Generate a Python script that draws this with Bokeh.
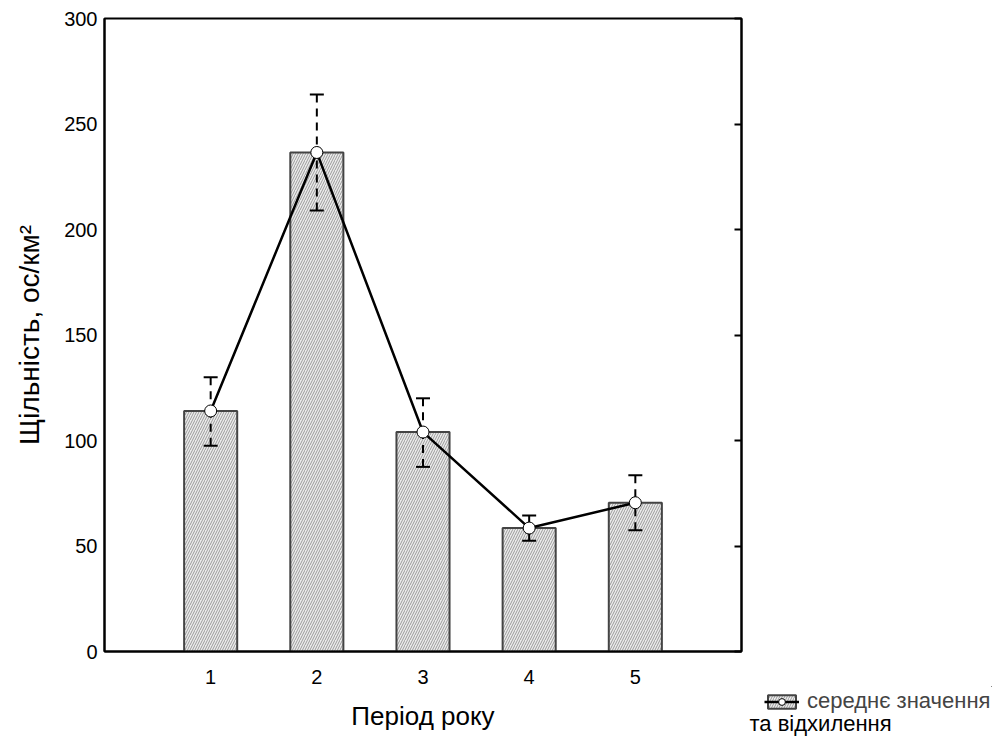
from bokeh.plotting import figure
from bokeh.models import Range1d, LinearAxis, FixedTicker, Legend, LegendItem, Label, Spacer
from bokeh.layouts import row, column
from bokeh.embed import file_html
from bokeh.resources import INLINE

# ---- data ----
periods = [1, 2, 3, 4, 5]
means = [114, 236.5, 104, 58.5, 70.5]
upper = [130, 264, 120, 64.5, 83.5]
lower = [97.5, 209, 87.5, 52.5, 57.5]
y_ticks = [0, 50, 100, 150, 200, 250, 300]
x_label = "Період року"
y_label = "Щільність, ос/км²"
legend_line1 = "середнє значення"
legend_line2 = "та відхилення"

FONT = "Liberation Sans"
BAR_STYLE = dict(fill_color="#ececec", hatch_pattern="/", hatch_color="#9a9a9a",
                 hatch_scale=5, hatch_weight=1, line_color="#444444", line_width=2)
LINE_STYLE = dict(line_color="black", line_width=2.5)
CIRCLE_STYLE = dict(marker="circle", size=12, fill_color="white", line_color="black", line_width=1)

H = 736
p = figure(width=747, height=H, x_range=Range1d(0, 6), y_range=Range1d(0, 300),
           output_backend="svg", toolbar_location=None,
           min_border_left=104, min_border_right=6, min_border_top=18, min_border_bottom=85)

p.xgrid.visible = False
p.ygrid.visible = False
p.outline_line_color = "black"
p.outline_line_width = 2
p.outline_line_alpha = 1

for ax in (p.xaxis[0], p.yaxis[0]):
    ax.axis_line_width = 2
    ax.axis_line_color = "black"
    ax.major_tick_line_color = None
    ax.major_tick_out = 0
    ax.major_tick_in = 0
    ax.minor_tick_line_color = None
    ax.minor_tick_out = 0
    ax.minor_tick_in = 0
    ax.major_label_text_font = FONT
    ax.major_label_text_font_size = "20px"
    ax.major_label_text_color = "black"
    ax.axis_label_text_font = FONT
    ax.axis_label_text_font_style = "normal"
    ax.axis_label_text_color = "black"

p.xaxis.ticker = FixedTicker(ticks=periods)
p.yaxis.ticker = FixedTicker(ticks=y_ticks)
p.xaxis.axis_label = x_label
p.yaxis.axis_label = y_label
p.xaxis.axis_label_text_font_size = "26px"
p.yaxis.axis_label_text_font_size = "28px"
p.xaxis.major_label_standoff = 18
p.yaxis.major_label_standoff = 7
p.xaxis.axis_label_standoff = 14
p.yaxis.axis_label_standoff = 16

right = LinearAxis(ticker=FixedTicker(ticks=y_ticks),
                   major_label_overrides={t: "" for t in y_ticks},
                   major_label_standoff=0,
                   major_tick_in=7, major_tick_out=0, major_tick_line_width=2,
                   minor_tick_line_color=None, minor_tick_in=0, minor_tick_out=0,
                   axis_line_width=2)
p.add_layout(right, "right")

p.vbar(x=periods, top=means, bottom=0, width=0.5, **BAR_STYLE)

# error bars: dashed stems from each cap to the mean
p.segment(x0=periods, y0=upper, x1=periods, y1=means, line_color="black",
          line_width=2, line_dash="8 6")
p.segment(x0=periods, y0=lower, x1=periods, y1=means, line_color="black",
          line_width=2, line_dash="8 6")
p.scatter(x=periods, y=upper, marker="dash", size=14, line_color="black", line_width=2)
p.scatter(x=periods, y=lower, marker="dash", size=14, line_color="black", line_width=2)

p.line(x=periods, y=means, **LINE_STYLE)
p.scatter(x=periods, y=means, **CIRCLE_STYLE)

# ---- legend panel (outside the plot frame, bottom right) ----
LH = 50
lg = figure(width=245, height=LH, x_range=Range1d(-10, -9), y_range=Range1d(-10, -9),
            x_axis_type=None, y_axis_type=None, output_backend="svg",
            toolbar_location=None, min_border=0, outline_line_color=None)
lg.xgrid.visible = False
lg.ygrid.visible = False
# same series, outside this panel's visible range: only their legend glyph shows
r_bar = lg.vbar(x=periods, top=means, bottom=0, width=0.5, **BAR_STYLE)
r_line = lg.line(x=periods, y=means, **LINE_STYLE)
r_circ = lg.scatter(x=periods, y=means, **CIRCLE_STYLE)
legend = Legend(items=[LegendItem(label=legend_line1, renderers=[r_bar, r_line, r_circ])],
                location=(17, 22), padding=0, margin=0, spacing=0,
                glyph_width=35, glyph_height=17, label_height=17, label_standoff=8,
                label_text_font=FONT, label_text_font_size="22px",
                border_line_color=None, background_fill_alpha=0)
lg.add_layout(legend, "center")
lg.add_layout(Label(x=2, y=13, x_units="screen", y_units="screen",
                    text=legend_line2, text_font=FONT, text_font_size="22px",
                    text_baseline="middle", text_color="black"))

layout = row(p, column(Spacer(width=245, height=H - LH), lg))

open("out.html", "w").write(file_html(layout, INLINE))
